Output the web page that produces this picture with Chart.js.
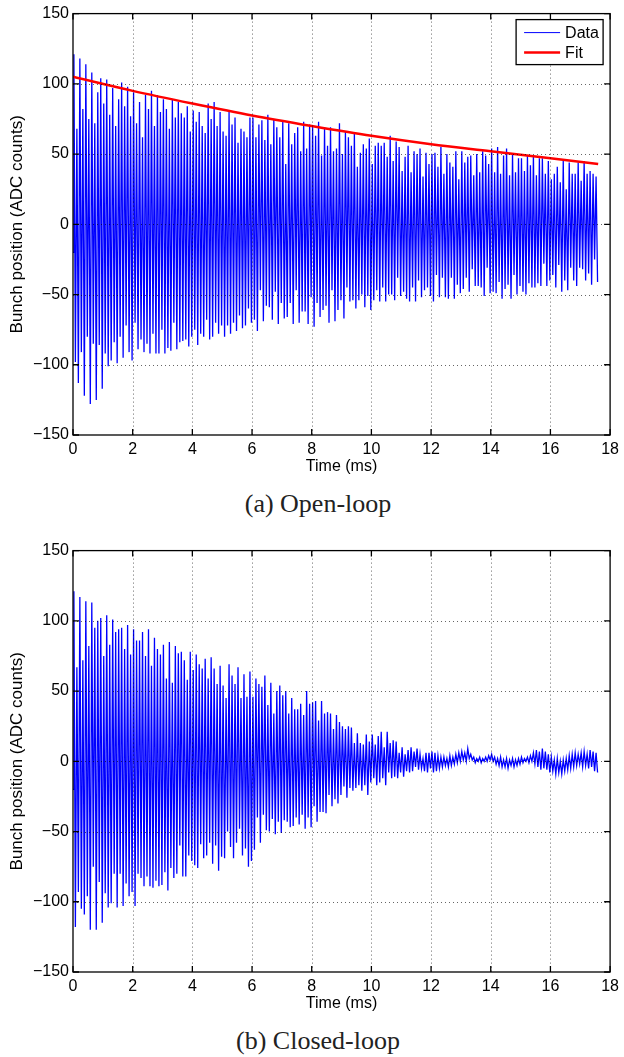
<!DOCTYPE html>
<html>
<head>
<meta charset="utf-8">
<script src="https://cdn.jsdelivr.net/npm/chart.js@4"></script>
<style>
  body { margin: 0; background: #fff; width: 624px; height: 1057px; overflow: hidden; position: relative; }
  .panel { position: absolute; left: 0; width: 624px; height: 537px; }
  .panel canvas { position: absolute; left: 0; top: 0; }
  .caption {
    position: absolute; left: 12px; width: 612px; top: 491px;
    text-align: center; font: 26px/26px "Liberation Serif", "Times New Roman", serif; color: #222;
  }
</style>
</head>
<body>
<div class="panel" style="top:0">
  <canvas id="openChart" width="624" height="480"></canvas>
  <div class="caption">(a) Open-loop</div>
</div>
<div class="panel" style="top:537px">
  <canvas id="closedChart" width="624" height="480"></canvas>
  <div class="caption">(b) Closed-loop</div>
</div>
<script>
// 坐标轴刻度
const timeTicks = [0, 2, 4, 6, 8, 10, 12, 14, 16, 18];
const positionTicks = [-150, -100, -50, 0, 50, 100, 150];

// 每个振荡周期 0.1 ms，一个峰值一个谷值
const cycleMs = 0.1;
const startValue = -20;

// (a) 开环：峰值 / 谷值 (ADC counts)
const openPeaks = [
  121, 68, 118, 82, 114, 75, 108, 72, 94, 104,
  86, 103, 78, 97, 70, 89, 101, 84, 98, 77,
  94, 72, 87, 62, 92, 82, 95, 70, 92, 80,
  89, 82, 68, 89, 76, 87, 79, 76, 84, 66,
  81, 73, 80, 70, 65, 86, 75, 87, 70, 80,
  66, 63, 80, 71, 76, 58, 68, 66, 62, 76,
  76, 62, 71, 74, 60, 78, 57, 75, 69, 62,
  73, 43, 72, 57, 65, 69, 52, 73, 54, 71,
  70, 63, 73, 49, 69, 56, 69, 52, 54, 72,
  50, 66, 62, 56, 65, 41, 51, 57, 54, 61,
  43, 56, 58, 56, 58, 48, 63, 45, 59, 55,
  38, 48, 56, 37, 52, 50, 54, 34, 51, 43,
  50, 51, 41, 55, 36, 50, 44, 41, 52, 32,
  52, 44, 48, 49, 35, 50, 37, 52, 49, 43,
  54, 37, 55, 36, 49, 54, 35, 50, 37, 47,
  47, 38, 49, 42, 49, 35, 47, 47, 36, 45,
  32, 36, 41, 30, 45, 25, 44, 36, 36, 44,
  31, 45, 36, 38, 36, 34
];
const openTroughs = [
  -98, -113, -91, -122, -80, -128, -85, -125, -86, -117,
  -92, -101, -97, -84, -99, -80, -95, -72, -91, -97,
  -70, -89, -82, -91, -85, -92, -78, -92, -92, -75,
  -92, -88, -90, -70, -89, -84, -83, -82, -87, -80,
  -75, -86, -78, -80, -68, -82, -80, -70, -78, -72,
  -80, -72, -78, -70, -76, -65, -74, -72, -60, -70,
  -68, -76, -47, -69, -58, -59, -68, -48, -71, -56,
  -67, -66, -56, -71, -47, -70, -62, -62, -71, -52,
  -73, -56, -66, -61, -58, -70, -47, -69, -61, -54,
  -67, -45, -55, -54, -60, -54, -50, -59, -51, -61,
  -54, -47, -55, -45, -55, -50, -50, -54, -38, -51,
  -48, -53, -55, -45, -55, -40, -52, -47, -45, -51,
  -55, -36, -52, -38, -52, -53, -38, -53, -43, -49,
  -46, -38, -48, -32, -44, -44, -45, -51, -31, -49,
  -48, -49, -41, -53, -46, -43, -53, -36, -50, -44,
  -48, -50, -42, -45, -45, -42, -44, -28, -44, -40,
  -36, -45, -29, -48, -40, -47, -31, -40, -44, -31,
  -32, -40, -35, -43, -25, -41
];

// 指数拟合曲线
const fitTimes = [0, 2, 4, 6, 8, 10, 12, 14, 16, 17.6];
const fitValues = [105, 95, 86, 77.5, 70, 63, 57, 52, 47, 43];

// (b) 闭环：峰值 / 谷值
const closedPeaks = [
  121, 67, 117, 72, 114, 82, 113, 95, 100, 102,
  75, 104, 83, 101, 92, 94, 95, 80, 97, 76,
  94, 86, 86, 92, 75, 94, 68, 88, 80, 76,
  83, 59, 85, 56, 82, 77, 78, 72, 58, 78,
  65, 76, 69, 66, 73, 59, 74, 66, 55, 68,
  54, 45, 69, 61, 55, 67, 45, 62, 46, 64,
  46, 59, 55, 53, 61, 40, 56, 34, 50, 54,
  47, 50, 34, 45, 37, 37, 41, 33, 50, 41,
  42, 43, 29, 43, 34, 35, 34, 23, 33, 28,
  25, 23, 25, 24, 13, 20, 13, 12, 19, 14,
  19, 12, 18, 21, 10, 21, 13, 15, 14, 6,
  10, 5, 8, 10, 7, 9, 5, 2, 6, 6,
  7, 6, 4, 3, 3, 2, 4, 3, 5, 6,
  7, 6, 9, 5, 3, 2, 3, 2, 3, 4,
  5, 3, 2, 3, 1, 2, 1, 2, 1, 2,
  3, 2, 3, 4, 6, 8, 7, 9, 7, 5,
  3, 1, 2, 0, 1, 2, 4, 5, 6, 5,
  6, 7, 5, 8, 7, 6
];
const closedTroughs = [
  -118, -93, -105, -109, -96, -120, -75, -120, -86, -115,
  -94, -104, -101, -80, -104, -80, -103, -87, -96, -93,
  -103, -80, -83, -89, -82, -89, -90, -85, -89, -88,
  -79, -92, -76, -83, -80, -60, -82, -82, -67, -71,
  -74, -76, -59, -69, -67, -58, -73, -60, -78, -68,
  -69, -50, -61, -69, -58, -48, -67, -62, -75, -71,
  -63, -40, -58, -38, -49, -50, -41, -52, -43, -51,
  -42, -43, -47, -46, -40, -45, -38, -48, -40, -47,
  -32, -43, -36, -36, -37, -24, -32, -27, -30, -24,
  -18, -26, -19, -21, -19, -17, -21, -17, -24, -15,
  -12, -17, -15, -12, -17, -8, -12, -11, -12, -8,
  -11, -7, -8, -7, -4, -6, -5, -7, -8, -5,
  -8, -7, -5, -4, -3, -4, -3, -2, -1, 0,
  1, 0, 2, 1, -1, 0, -1, 0, 0, 1,
  0, -2, -3, -4, -4, -5, -3, -4, -3, -2,
  -1, 0, -1, 0, -2, -4, -6, -5, -6, -8,
  -7, -9, -8, -9, -7, -6, -5, -4, -3, -2,
  -4, -3, -5, -4, -7, -8
];

const FONT = '"Liberation Sans", Arial, Helvetica, sans-serif';
Chart.defaults.font.family = FONT;
Chart.defaults.color = '#000';

// 峰谷交替排成一条折线
function buildTrace(peaks, troughs) {
  const pts = [{ x: 0, y: startValue }];
  const n = Math.min(peaks.length, troughs.length);
  for (let k = 0; k < n; k++) {
    pts.push({ x: k * cycleMs + 0.03, y: peaks[k] });
    pts.push({ x: k * cycleMs + 0.08, y: troughs[k] });
  }
  return pts;
}

// MATLAB 风格：点状网格、黑框、向内刻度、图例框
const matlabFrame = {
  id: 'matlabFrame',
  afterDatasetsDraw(chart, args, opts) {
    const { ctx, chartArea: a, scales: { x, y } } = chart;
    ctx.save();
    ctx.lineWidth = 1;
    ctx.strokeStyle = 'rgba(0,0,0,0.6)';
    ctx.setLineDash([1, 3]);
    ctx.beginPath();
    x.ticks.forEach(t => {
      const px = Math.round(x.getPixelForValue(t.value)) + 0.5;
      if (px > a.left + 2 && px < a.right - 2) { ctx.moveTo(px, a.top); ctx.lineTo(px, a.bottom); }
    });
    y.ticks.forEach(t => {
      const py = Math.round(y.getPixelForValue(t.value)) + 0.5;
      if (py > a.top + 2 && py < a.bottom - 2) { ctx.moveTo(a.left, py); ctx.lineTo(a.right, py); }
    });
    ctx.stroke();
    ctx.setLineDash([]);

    ctx.strokeStyle = '#000';
    ctx.lineWidth = 1.3;
    ctx.strokeRect(a.left, a.top, a.right - a.left, a.bottom - a.top);
    const tl = 6;
    ctx.beginPath();
    x.ticks.forEach(t => {
      const px = x.getPixelForValue(t.value);
      ctx.moveTo(px, a.bottom); ctx.lineTo(px, a.bottom - tl);
      ctx.moveTo(px, a.top); ctx.lineTo(px, a.top + tl);
    });
    y.ticks.forEach(t => {
      const py = y.getPixelForValue(t.value);
      ctx.moveTo(a.left, py); ctx.lineTo(a.left + tl, py);
      ctx.moveTo(a.right, py); ctx.lineTo(a.right - tl, py);
    });
    ctx.stroke();

    if (opts && opts.legend) {
      const w = 87, h = 45;
      const bx = a.right - 7 - w, by = a.top + 6;
      ctx.fillStyle = '#fff';
      ctx.fillRect(bx, by, w, h);
      ctx.lineWidth = 1.3;
      ctx.strokeStyle = '#000';
      ctx.strokeRect(bx, by, w, h);
      ctx.font = '16px ' + FONT;
      ctx.textBaseline = 'middle';
      ctx.fillStyle = '#000';
      chart.data.datasets.slice().sort((p, q) => q.order - p.order).forEach((ds, i) => {
        const ly = by + 13 + i * 20;
        ctx.strokeStyle = ds.borderColor;
        ctx.lineWidth = ds.label === 'Data' ? 1 : ds.borderWidth;
        ctx.beginPath();
        ctx.moveTo(bx + 8, ly); ctx.lineTo(bx + 44, ly);
        ctx.stroke();
        ctx.fillText(ds.label, bx + 49, ly + 1);
      });
    }
    ctx.restore();
  }
};

function makePanel(canvasId, datasets, showLegend) {
  new Chart(document.getElementById(canvasId), {
    type: 'line',
    data: { datasets: datasets },
    options: {
      responsive: false,
      animation: false,
      layout: { padding: { top: 10, right: 11, left: 0, bottom: 0 } },
      plugins: {
        legend: { display: false },
        tooltip: { enabled: false },
        matlabFrame: { legend: showLegend }
      },
      elements: { point: { radius: 0 }, line: { tension: 0 } },
      scales: {
        x: {
          type: 'linear', min: 0, max: 18,
          afterBuildTicks: s => { s.ticks = timeTicks.map(v => ({ value: v })); },
          afterFit: s => { s.height = 45; },
          grid: { display: false, drawTicks: false },
          border: { display: false },
          ticks: { padding: 5, autoSkip: false, maxRotation: 0, font: { size: 16 } },
          title: { display: true, text: 'Time (ms)', font: { size: 16 }, padding: { top: 0, bottom: 4 } }
        },
        y: {
          type: 'linear', min: -150, max: 150,
          afterBuildTicks: s => { s.ticks = positionTicks.map(v => ({ value: v })); },
          afterFit: s => { s.width = 73; },
          grid: { display: false, drawTicks: false },
          border: { display: false },
          ticks: { padding: 4, font: { size: 16 }, callback: v => String(v).replace('-', '\u2212') },
          title: { display: true, text: 'Bunch position (ADC counts)', font: { size: 17 }, padding: { top: 7, bottom: 0 } }
        }
      }
    },
    plugins: [matlabFrame]
  });
}

makePanel('openChart', [
  { label: 'Data', data: buildTrace(openPeaks, openTroughs), borderColor: '#0000ff', borderWidth: 1.3, order: 1 },
  { label: 'Fit', data: fitTimes.map((t, i) => ({ x: t, y: fitValues[i] })), borderColor: '#ff0000', borderWidth: 2.5, order: 0, cubicInterpolationMode: 'monotone' }
], true);

makePanel('closedChart', [
  { label: 'Data', data: buildTrace(closedPeaks, closedTroughs), borderColor: '#0000ff', borderWidth: 1.3, order: 1 }
], false);
</script>
</body>
</html>
